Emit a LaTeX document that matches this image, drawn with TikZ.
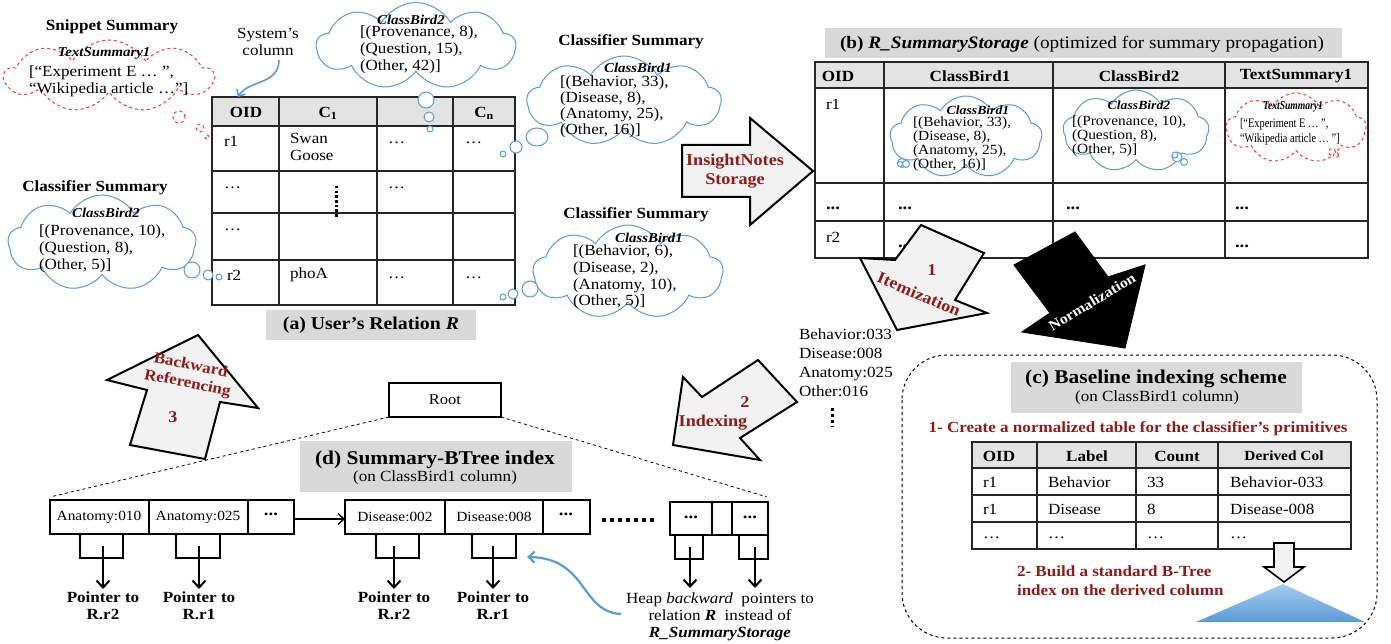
\documentclass[tikz,border=0pt]{standalone}
\usepackage{fontspec}
\setmainfont[FakeStretch=1.1]{Liberation Serif}
\newfontfamily\narrowfont[FakeStretch=0.8]{Liberation Serif}
\usetikzlibrary{shapes.symbols,shapes.geometric,arrows.meta,calc}
\definecolor{cblue}{HTML}{5B9BD5}
\definecolor{cred}{HTML}{FF3535}
\definecolor{dred}{HTML}{8E1B1B}
\definecolor{hdrgray}{HTML}{E3E3E3}
\definecolor{capgray}{HTML}{D9D9D9}
\definecolor{arrgray}{HTML}{F2F2F2}
\definecolor{trilight}{HTML}{A9CBF2}
\begin{document}
\begin{tikzpicture}[x=1pt,y=-1pt,
  every node/.style={inner sep=0pt, outer sep=0pt},
  body/.style={font=\fontsize{15.5}{17}\selectfont},
  bodyb/.style={font=\fontsize{15.5}{17}\selectfont\bfseries},
  small/.style={font=\fontsize{14}{14}\selectfont},
  lbl/.style={font=\fontsize{13.5}{15}\selectfont\bfseries\itshape},
  captxt/.style={font=\fontsize{18}{20}\selectfont\bfseries},
  bigcap/.style={font=\fontsize{19.5}{21}\selectfont\bfseries},
  arrtxt/.style={font=\fontsize{16.5}{19}\selectfont\bfseries, text=dred, align=center},
  tbl/.style={line width=1.8pt, draw=black!85},
  tblb/.style={line width=1.4pt, draw=black!85},
  bcloud/.style={cloud, cloud ignores aspect, cloud puff arc=120, draw=cblue, line width=1pt, fill=white},
  rcloud/.style={cloud, cloud ignores aspect, cloud puff arc=120, draw=cred, line width=1pt, dashed, fill=white},
  btail/.style={circle, draw=cblue, line width=1pt, fill=white},
  rtail/.style={circle, draw=cred, line width=1pt, dashed, fill=white},
  blockarrow/.style={fill=arrgray, draw=black, line width=2pt, line join=miter},
  leaf/.style={draw=black, line width=2pt},
  ptrarrow/.style={line width=2pt, -{Straight Barb[length=7pt,width=13pt,line width=2pt]}},
  ptrlbl/.style={font=\fontsize{15.5}{17}\selectfont\bfseries, align=center},
  leaftxt/.style={font=\fontsize{14}{15}\selectfont},
  dots/.style={font=\fontsize{17}{17}\selectfont\bfseries}
]
\useasboundingbox (0,0) rectangle (1391,644);

% ================= (a) User's relation ==================
\fill[hdrgray] (212,97) rectangle (515,126);
\draw[tbl] (212,97) rectangle (515,305);
\foreach \x in {279,377,453} \draw[tbl] (\x,97) -- (\x,305);
\foreach \y in {126,171,213,260} \draw[tbl] (212,\y) -- (515,\y);
\node[bodyb] (aoid) at (246,112) {OID};
\node[bodyb] (ac1) at (328,113) {C\textsubscript{1}};
\node[bodyb] (acn) at (484,113) {C\textsubscript{n}};
\node[body, anchor=west] (ar1) at (224,141) {r1};
\node[body, anchor=north west, align=left] (aswan) at (290,133) {Swan\\Goose};
\node[body, anchor=west] (ad11) at (388,143) {\dots};
\node[body, anchor=west] (ad12) at (465,143) {\dots};
\node[body, anchor=west] (ad21) at (224,188) {\dots};
\node[body, anchor=west] (ad22) at (388,188) {\dots};
\node[body, anchor=west] (ad31) at (224,230) {\dots};
\node[body, anchor=west] (ar2) at (227,275) {r2};
\node[body, anchor=west] (apho) at (290,275) {phoA};
\node[body, anchor=west] (ad41) at (388,278) {\dots};
\node[body, anchor=west] (ad42) at (465,278) {\dots};
\draw[line width=3pt, dash pattern=on 2.5pt off 2.2pt] (336,186) -- (336,217);
\fill[capgray] (266,310) rectangle (476,340);
\node[captxt] (acap) at (371,325) {(a) User’s Relation \textit{R}};

% System's column
\node[body, align=center] (sys) at (268,42) {System’s\\column};
\coordinate (sysa) at (279,60);
\coordinate (sysb) at (238,97);
\draw[cblue, line width=1.6pt, -{Straight Barb[length=5pt,width=10pt,line width=1.6pt]}] (sysa) .. controls (279,85) and (248,80) .. (sysb);

% ================= Snippet summary ==================
\node[bodyb] (snt) at (112,27) {Snippet Summary};
\node[rcloud, cloud puffs=9, minimum width=208pt, minimum height=72pt] (snc) at (109,76) {};
\node[lbl] (snl) at (104,53) {TextSummary1};
\node[body, anchor=west, align=left] (snx) at (29,81) {[“Experiment E … ”,\\“Wikipedia article …”]};
\node[rtail, minimum size=12pt] (snt1) at (179,117) {};
\node[rtail, minimum size=8pt] (snt2) at (200,128) {};
\node[rtail, minimum size=4pt] (snt3) at (207,137) {};

% ================= ClassBird2 top cloud ==================
\node[bcloud, cloud puffs=9, minimum width=199pt, minimum height=87pt] (tc) at (416,46) {};
\node[lbl] (tcl) at (411,20) {ClassBird2};
\node[body, anchor=west, align=left] (tcx) at (360,50) {[(Provenance, 8),\\(Question, 15),\\(Other, 42)]};
\node[btail, minimum size=16pt] (tct1) at (426,100) {};
\node[btail, minimum size=10pt] (tct2) at (429,117) {};
\node[btail, minimum size=6pt] (tct3) at (430,129) {};

% ================= Classifier summary right top ==================
\node[bodyb] (rtt) at (631,42) {Classifier Summary};
\node[bcloud, cloud puffs=9, minimum width=194pt, minimum height=90pt] (rtc) at (624,101) {};
\node[lbl] (rtl) at (638,68) {ClassBird1};
\node[body, anchor=west, align=left, font=\fontsize{15.5}{16}\selectfont] (rtx) at (560,107) {[(Behavior, 33),\\(Disease, 8),\\(Anatomy, 25),\\(Other, 16)]};
\node[btail, ellipse, minimum width=22pt, minimum height=18pt] (rtt1) at (537,137) {};
\node[btail, minimum size=12pt] (rtt2) at (516,147) {};
\node[btail, minimum size=6pt] (rtt3) at (503,154) {};

% ================= Classifier summary right bottom ==================
\node[bodyb] (rbt) at (636,215) {Classifier Summary};
\node[bcloud, cloud puffs=9, minimum width=190pt, minimum height=94pt] (rbc) at (628,272) {};
\node[lbl] (rbl) at (649,238) {ClassBird1};
\node[body, anchor=west, align=left, font=\fontsize{15.5}{16.6}\selectfont] (rbx) at (573,277) {[(Behavior, 6),\\(Disease, 2),\\(Anatomy, 10),\\(Other, 5)]};
\node[btail, minimum size=16pt] (rbt1) at (530,289) {};
\node[btail, minimum size=10pt] (rbt2) at (513,294) {};
\node[btail, minimum size=6pt] (rbt3) at (503,297) {};

% ================= Classifier summary left ==================
\node[bodyb] (lt) at (95,188) {Classifier Summary};
\node[bcloud, cloud puffs=9, minimum width=188pt, minimum height=96pt] (lc) at (102,243) {};
\node[lbl] (ll) at (106,213) {ClassBird2};
\node[body, anchor=west, align=left] (lx) at (39,249) {[(Provenance, 10),\\(Question, 8),\\(Other, 5)]};
\node[btail, minimum size=16pt] (ltt1) at (192,270) {};
\node[btail, minimum size=10pt] (ltt2) at (208,275) {};
\node[btail, minimum size=6pt] (ltt3) at (219,277) {};

% ================= InsightNotes Storage arrow ==================
\draw[blockarrow] (682,145) -- (750,145) -- (750,118) -- (813,171) -- (750,225) -- (750,197) -- (682,197) -- cycle;
\node[arrtxt] (ins) at (735,171) {InsightNotes\\Storage};

% ================= (b) R_SummaryStorage ==================
\fill[capgray] (825,28) rectangle (1342,58);
\node[font=\fontsize{17.5}{19}\selectfont] (bcap) at (1082,44) {\textbf{(b) \textit{R\_SummaryStorage}} (optimized for summary propagation)};
\fill[hdrgray] (815,62) rectangle (1368,88);
\draw[tblb] (815,62) rectangle (1368,258);
\foreach \x in {884,1053,1225} \draw[tblb] (\x,62) -- (\x,258);
\foreach \y in {88,183,221} \draw[tblb] (815,\y) -- (1368,\y);
\node[bodyb] (boid) at (838,76) {OID};
\node[bodyb] (bh1) at (970,76) {ClassBird1};
\node[bodyb] (bh2) at (1139,76) {ClassBird2};
\node[bodyb] (bh3) at (1296,76) {TextSummary1};
\node[body, anchor=west] (br1) at (826,104) {r1};
\node[dots, anchor=west] (bd1) at (826,208) {...};
\node[dots, anchor=west] (bd2) at (898,208) {...};
\node[dots, anchor=west] (bd3) at (1066,208) {...};
\node[dots, anchor=west] (bd4) at (1235,208) {...};
\node[body, anchor=west] (br2) at (826,237) {r2};
\node[dots, anchor=west] (bd5) at (898,246) {...};
\node[dots, anchor=west] (bd6) at (1235,246) {...};
% clouds inside table b
\node[bcloud, cloud puffs=9, minimum width=152pt, minimum height=82pt] (bc1) at (966,137) {};
\node[font=\fontsize{12.5}{14}\selectfont\bfseries\itshape] (bc1l) at (978,110) {ClassBird1};
\node[small, anchor=west, align=left] (bc1x) at (913,144) {[(Behavior, 33),\\(Disease, 8),\\(Anatomy, 25),\\(Other, 16)]};
\node[btail, minimum size=9pt] (bc1t1) at (902,163) {};
\node[btail, minimum size=7pt] (bc1t2) at (906,164) {};
\node[btail, minimum size=5pt] (bc1t3) at (900,164) {};
\node[bcloud, cloud puffs=9, minimum width=146pt, minimum height=82pt] (bc2) at (1136,131) {};
\node[font=\fontsize{12.5}{14}\selectfont\bfseries\itshape] (bc2l) at (1139,105) {ClassBird2};
\node[small, anchor=west, align=left] (bc2x) at (1072,136) {[(Provenance, 10),\\(Question, 8),\\(Other, 5)]};
\node[btail, minimum size=10pt] (bc2t1) at (1177,157) {};
\node[btail, minimum size=6pt] (bc2t2) at (1175,155) {};
\node[btail, minimum size=7pt] (bc2t3) at (1184,162) {};
\node[rcloud, cloud puffs=9, minimum width=140pt, minimum height=70pt] (bc3) at (1296,128) {};
\node[font=\narrowfont\fontsize{12}{13}\selectfont\bfseries\itshape] (bc3l) at (1293,107) {TextSummary1};
\node[font=\narrowfont\fontsize{13}{15}\selectfont, anchor=west, align=left] (bc3x) at (1240,132) {[“Experiment E … ”,\\“Wikipedia article … ”]};
\node[rtail, minimum size=7pt] (bc3t1) at (1332,152) {};
\node[rtail, minimum size=5pt] (bc3t2) at (1336,155) {};

% ================= Itemization arrow ==================
\draw[blockarrow] (921,225) -- (984,253) -- (955,300) -- (987,313) -- (897,330) -- (860,258) -- (895,260) -- cycle;
\node[arrtxt] (it1) at (932,270) {1};
\node[arrtxt, rotate=-23] (itm) at (919,294) {Itemization};

% ================= Normalization arrow ==================
\draw[fill=black, draw=black, line width=1pt] (1075,232) -- (1108,277) -- (1145,265) -- (1125,348) -- (1022,332) -- (1050,313) -- (1014,265) -- cycle;
\node[font=\fontsize{14.5}{17}\selectfont\bfseries, text=white, rotate=31] (nrm) at (1092,302) {Normalization};

% ================= itemized list ==================
\node[body, anchor=north west, align=left, font=\fontsize{15.5}{19}\selectfont] (list) at (799,329) {Behavior:033\\Disease:008\\Anatomy:025\\Other:016};
\draw[line width=3pt, dash pattern=on 3pt off 3pt] (832,408) -- (832,427);

% ================= Indexing arrow ==================
\draw[blockarrow] (758,360) -- (797,402) -- (740,438) -- (760,460) -- (673,445) -- (683,377) -- (702,397) -- cycle;
\node[arrtxt] (ix2) at (745,402) {2};
\node[arrtxt] (ixt) at (713,423) {Indexing};

% ================= Backward referencing arrow ==================
\draw[blockarrow] (198,335) -- (258,408) -- (220,402) -- (205,459) -- (130,445) -- (147,390) -- (107,380) -- cycle;
\node[arrtxt, rotate=-11, font=\fontsize{15.5}{18}\selectfont\bfseries] (bwd) at (189,375) {Backward\\Referencing};
\node[arrtxt] (bw3) at (173,417) {3};

% ================= (c) Baseline indexing scheme ==================
\draw[dashed, line width=1pt, rounded corners=45pt] (902,355) rectangle (1377,638);
\fill[capgray] (1011,362) rectangle (1302,413);
\node[bigcap] (ccap) at (1156,379) {(c) Baseline indexing scheme};
\node[body] (ccap2) at (1157,398) {(on ClassBird1 column)};
\node[bodyb, text=dred] (c1) at (1138,429) {1- Create a normalized table for the classifier’s primitives};
\fill[hdrgray] (972,442) rectangle (1351,468);
\draw[tbl] (972,442) rectangle (1351,549);
\foreach \x in {1037,1136,1218} \draw[tbl] (\x,442) -- (\x,549);
\foreach \y in {468,495,522} \draw[tbl] (972,\y) -- (1351,\y);
\node[bodyb] (coid) at (999,456) {OID};
\node[bodyb] (clab) at (1087,456) {Label};
\node[bodyb] (ccnt) at (1177,456) {Count};
\node[font=\fontsize{14}{15}\selectfont\bfseries] (cder) at (1284,456) {Derived Col};
\node[body, anchor=west] (cr11) at (983,482) {r1};
\node[body, anchor=west] (cr12) at (1048,482) {Behavior};
\node[body, anchor=west] (cr13) at (1147,482) {33};
\node[body, anchor=west] (cr14) at (1230,482) {Behavior-033};
\node[body, anchor=west] (cr21) at (983,509) {r1};
\node[body, anchor=west] (cr22) at (1048,509) {Disease};
\node[body, anchor=west] (cr23) at (1147,509) {8};
\node[body, anchor=west] (cr24) at (1230,509) {Disease-008};
\node[body, anchor=west] (cr31) at (983,538) {\dots};
\node[body, anchor=west] (cr32) at (1048,538) {\dots};
\node[body, anchor=west] (cr33) at (1147,538) {\dots};
\node[body, anchor=west] (cr34) at (1230,538) {\dots};
\draw[fill=arrgray, draw=black, line width=1.6pt] (1274,543) -- (1294,543) -- (1294,567) -- (1304,567) -- (1284,582) -- (1264,567) -- (1274,567) -- cycle;
\node[text=dred, anchor=west, align=left, font=\fontsize{15.5}{19}\selectfont\bfseries] (c2) at (1017,581) {2- Build a standard B-Tree\\index on the derived column};
\shade[top color=trilight, bottom color=cblue] (1283,584) -- (1365,622) -- (1196,622) -- cycle;

% ================= (d) Summary-BTree ==================
\node[draw=black, line width=2pt, minimum width=112pt, minimum height=34pt, font=\fontsize{15}{15}\selectfont] (root) at (445,400) {Root};
\fill[capgray] (300,441) rectangle (572,492);
\node[bigcap] (dcap) at (435,460) {(d) Summary-BTree index};
\node[body] (dcap2) at (435,478) {(on ClassBird1 column)};

% leaf 1
\draw[leaf] (50,500) rectangle (294,534);
\draw[leaf] (149,500) -- (149,534) (248,500) -- (248,534);
\node[leaftxt] (l1a) at (99,517) {Anatomy:010};
\node[leaftxt] (l1b) at (198,517) {Anatomy:025};
\node[dots] (l1c) at (271,514) {...};
\draw[leaf] (80,534) rectangle (123,558);
\draw[leaf] (176,534) rectangle (220,558);
\coordinate (p1s) at (103,546); \coordinate (p1e) at (103,589);
\coordinate (p2s) at (199,546); \coordinate (p2e) at (199,589);
\draw[ptrarrow] (p1s) -- (p1e);
\draw[ptrarrow] (p2s) -- (p2e);
\node[ptrlbl] (pl1) at (103,606) {Pointer to\\R.r2};
\node[ptrlbl] (pl2) at (199,606) {Pointer to\\R.r1};

% leaf 2
\draw[leaf] (345,500) rectangle (590,534);
\draw[leaf] (445,500) -- (445,534) (543,500) -- (543,534);
\node[leaftxt] (l2a) at (395,517) {Disease:002};
\node[leaftxt] (l2b) at (494,517) {Disease:008};
\node[dots] (l2c) at (566,514) {...};
\draw[leaf] (376,534) rectangle (419,558);
\draw[leaf] (472,534) rectangle (516,558);
\coordinate (p3s) at (394,546); \coordinate (p3e) at (394,589);
\coordinate (p4s) at (493,546); \coordinate (p4e) at (493,589);
\draw[ptrarrow] (p3s) -- (p3e);
\draw[ptrarrow] (p4s) -- (p4e);
\node[ptrlbl] (pl3) at (394,606) {Pointer to\\R.r2};
\node[ptrlbl] (pl4) at (493,606) {Pointer to\\R.r1};

% leaf link
\coordinate (lk1) at (294,519);
\coordinate (lk2) at (345,519);
\draw[line width=1.4pt, -{Straight Barb[length=6pt,width=11pt,line width=1.4pt]}] (lk1) -- (lk2);
\draw[line width=3.5pt, dash pattern=on 3.5pt off 4.5pt] (602,520) -- (658,520);

% leaf 3
\draw[leaf] (670,502) rectangle (768,535);
\draw[leaf] (712,502) -- (712,535) (732,502) -- (732,535);
\node[dots] (l3a) at (691,517) {...};
\node[dots] (l3b) at (750,517) {...};
\draw[leaf] (675,535) rectangle (703,559);
\draw[leaf] (739,535) rectangle (768,559);
\coordinate (p5s) at (690,547); \coordinate (p5e) at (690,588);
\coordinate (p6s) at (755,547); \coordinate (p6e) at (755,588);
\draw[ptrarrow] (p5s) -- (p5e);
\draw[ptrarrow] (p6s) -- (p6e);
\node[body, align=center] (heap) at (720,617) {Heap \textit{backward}\ \ pointers to\\relation \textbf{\textit{R}}\ \ instead of\\\textbf{\textit{R\_SummaryStorage}}};

% dashed lines from root
\draw[dashed, line width=0.8pt] (root.south west) -- (50,497);
\draw[dashed, line width=0.8pt] (root.south east) -- (767,497);

% blue curved arrow
\coordinate (bs) at (621,614);
\coordinate (be) at (527,557);
\draw[cblue, line width=2.2pt, -{Straight Barb[length=6pt,width=11pt,line width=2.2pt]}] (bs) .. controls (580,612) and (588,558) .. (be);

\end{tikzpicture}
\end{document}
